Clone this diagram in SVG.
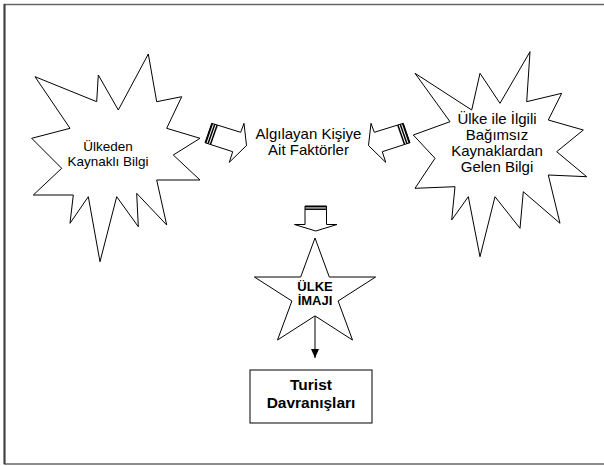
<svg xmlns="http://www.w3.org/2000/svg" width="604" height="466" viewBox="0 0 604 466">
<defs>
<style>
.shape{fill:#fff;stroke:#000;stroke-width:1;stroke-linejoin:miter}
.t{font-family:"Liberation Sans",Arial,sans-serif;font-size:15px;fill:#000;text-anchor:middle}
.b{font-family:"Liberation Sans",Arial,sans-serif;font-weight:bold;fill:#000;text-anchor:middle}
.stripe{stroke:#000;stroke-width:1.5;fill:none}
</style>
<marker id="ah" markerWidth="10" markerHeight="10" refX="9" refY="4" orient="auto" markerUnits="userSpaceOnUse">
<path d="M0,0 L9,4 L0,8 Z" fill="#000"/>
</marker>
</defs>
<rect x="0" y="0" width="604" height="466" fill="#fff"/>
<g id="frame">
<path d="M610,4.5 H4.5 V464 H610" fill="none" stroke="#666" stroke-width="1.5"/>
<line x1="4.5" y1="4" x2="4.5" y2="464" stroke="#444" stroke-width="2"/>
</g>
<g id="left-burst">
<polygon class="shape" points="35,76.7 96.7,101.7 98.3,75 118.3,110 148.3,54 156.7,101.7 181.7,96.7 166.7,128.3 200,138.3 173.3,155 200,180 156.7,180 166.7,225 136.7,193.3 138.3,226.7 116.7,196.7 100,261.7 88.3,196.7 70,223.3 73.3,195 33.3,195 61.7,168.3 31.7,138.3 70,128.3"/>
<text class="t" style="font-size:13.5px" x="108" y="151">Ülkeden</text>
<text class="t" style="font-size:13.5px" x="108" y="166">Kaynaklı Bilgi</text>
</g>
<g id="right-burst">
<polygon class="shape" points="530,51.7 500,103.3 480,73.3 471.7,110 415,73.3 450,121.7 413.3,135 435,158.3 415,188.3 455,186.7 451.7,220 468.3,196.7 480,256.7 495,196.7 520,228.3 523.3,191.7 560,223.3 548.3,175 586.7,176.7 556.7,151.7 583.3,130 548.3,120 561.7,93.3 526.7,101.7"/>
<text class="t" x="497" y="124">Ülke ile İlgili</text>
<text class="t" x="497" y="140">Bağımsız</text>
<text class="t" x="497" y="156">Kaynaklardan</text>
<text class="t" x="497" y="172">Gelen Bilgi</text>
</g>
<g id="center-factors">
<text class="t" x="308.5" y="139">Algılayan Kişiye</text>
<text class="t" x="308.5" y="155">Ait Faktörler</text>
</g>
<g id="star">
<polygon class="shape" points="315,238 329.3,277 375.6,277 338.1,301 352.5,340 315,315.9 277.5,340 291.9,301 254.4,277 300.7,277"/>
<text class="b" font-size="13" x="315" y="291">ÜLKE</text>
<text class="b" font-size="13" x="315" y="305">İMAJI</text>
</g>
<g id="turist-box">
<rect class="shape" x="250" y="370" width="122" height="53"/>
<text class="b" font-size="15.5" x="311" y="390">Turist</text>
<text class="b" font-size="15.5" x="311" y="408">Davranışları</text>
</g>
<g id="connectors">
<g id="arrow-left">
<polygon class="shape" points="205,142.7 211.7,123.3 240.7,132.3 244,123.3 246.5,145.5 229.3,162.3 232.7,151.7"/>
<line class="stripe" x1="205.7" y1="142.9" x2="212.4" y2="123.5"/>
<line class="stripe" x1="208.1" y1="143.6" x2="214.8" y2="124.2"/>
<line class="stripe" x1="210.5" y1="144.3" x2="217.2" y2="124.9"/>
</g>
<g id="arrow-right">
<polygon class="shape" points="410,142.7 403.3,123.3 374.3,132.3 371,123.3 368.5,145.5 385.7,162.3 382.3,151.7"/>
<line class="stripe" x1="409.3" y1="142.9" x2="402.6" y2="123.5"/>
<line class="stripe" x1="406.9" y1="143.6" x2="400.2" y2="124.2"/>
<line class="stripe" x1="404.5" y1="144.3" x2="397.8" y2="124.9"/>
</g>
<g id="arrow-down">
<polygon class="shape" points="305,206 326.5,206 326.5,224.5 337,224.5 315.75,231 294.5,224.5 305,224.5"/>
<line class="stripe" x1="305" y1="206.7" x2="326.5" y2="206.7"/>
<line class="stripe" x1="305" y1="209.2" x2="326.5" y2="209.2"/>
</g>
<line x1="315" y1="316" x2="315" y2="358" stroke="#000" stroke-width="1" marker-end="url(#ah)"/>
</g>
</svg>
